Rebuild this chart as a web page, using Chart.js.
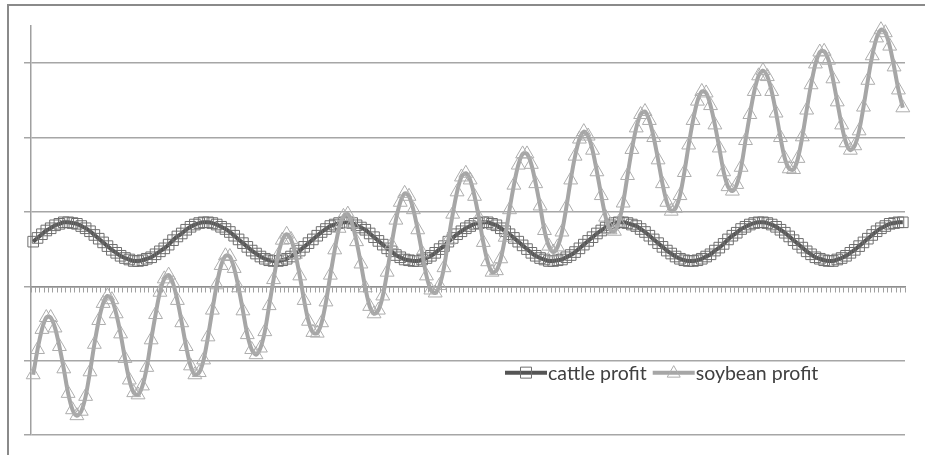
<!DOCTYPE html>
<html>
<head>
<meta charset="utf-8">
<script src="https://cdn.jsdelivr.net/npm/chart.js@4"></script>
<style>
  body { margin: 0; background: #fff; }
  #wrap { position: relative; width: 925px; height: 455px; }
  #frame { position: absolute; left: 7px; top: 4px; right: 0; bottom: 0; border-left: 2px solid #8a8a8a; border-top: 2px solid #8a8a8a; }
  canvas { position: absolute; left: 0; top: 0; }
</style>
</head>
<body>
<div id="wrap">
  <div id="frame"></div>
  <canvas id="chart" width="925" height="455"></canvas>
</div>
<script>
// one label per period, 200 periods
const periods = Array.from({ length: 200 }, (_, i) => String(i + 1));

const cattleProfit = [
  0.60, 0.65, 0.70, 0.75, 0.78, 0.82, 0.84, 0.86, 0.86, 0.85,
  0.84, 0.81, 0.78, 0.74, 0.69, 0.64, 0.59, 0.54, 0.49, 0.45,
  0.41, 0.38, 0.36, 0.34, 0.34, 0.35, 0.37, 0.39, 0.43, 0.47,
  0.51, 0.56, 0.62, 0.67, 0.71, 0.76, 0.80, 0.83, 0.85, 0.86,
  0.86, 0.85, 0.83, 0.80, 0.77, 0.73, 0.68, 0.63, 0.58, 0.53,
  0.48, 0.44, 0.40, 0.37, 0.35, 0.34, 0.34, 0.35, 0.37, 0.40,
  0.44, 0.48, 0.53, 0.58, 0.63, 0.68, 0.73, 0.77, 0.81, 0.83,
  0.85, 0.86, 0.86, 0.85, 0.82, 0.79, 0.76, 0.71, 0.66, 0.61,
  0.56, 0.51, 0.47, 0.42, 0.39, 0.36, 0.35, 0.34, 0.34, 0.36,
  0.38, 0.41, 0.45, 0.50, 0.54, 0.60, 0.65, 0.70, 0.74, 0.78,
  0.81, 0.84, 0.85, 0.86, 0.86, 0.84, 0.82, 0.78, 0.74, 0.70,
  0.65, 0.60, 0.55, 0.50, 0.45, 0.41, 0.38, 0.36, 0.34, 0.34,
  0.35, 0.36, 0.39, 0.42, 0.46, 0.51, 0.56, 0.61, 0.66, 0.71,
  0.75, 0.79, 0.82, 0.85, 0.86, 0.86, 0.85, 0.83, 0.81, 0.77,
  0.73, 0.68, 0.63, 0.58, 0.53, 0.48, 0.44, 0.40, 0.37, 0.35,
  0.34, 0.34, 0.35, 0.37, 0.40, 0.43, 0.48, 0.52, 0.57, 0.63,
  0.68, 0.72, 0.77, 0.80, 0.83, 0.85, 0.86, 0.86, 0.85, 0.83,
  0.80, 0.76, 0.72, 0.67, 0.62, 0.57, 0.52, 0.47, 0.43, 0.39,
  0.37, 0.35, 0.34, 0.34, 0.36, 0.38, 0.41, 0.45, 0.49, 0.54,
  0.59, 0.64, 0.69, 0.74, 0.78, 0.81, 0.84, 0.85, 0.86, 0.86
];

const soybeanProfit = [
  -1.19, -0.85, -0.58, -0.42, -0.42, -0.56, -0.81, -1.11, -1.44, -1.66,
  -1.74, -1.68, -1.48, -1.15, -0.78, -0.46, -0.23, -0.13, -0.18, -0.37,
  -0.64, -0.97, -1.26, -1.43, -1.46, -1.34, -1.09, -0.72, -0.38, -0.08,
  0.10, 0.15, 0.04, -0.19, -0.49, -0.81, -1.07, -1.19, -1.16, -0.99,
  -0.68, -0.32, 0.02, 0.28, 0.41, 0.40, 0.24, -0.02, -0.33, -0.65,
  -0.85, -0.92, -0.83, -0.61, -0.26, 0.09, 0.41, 0.62, 0.70, 0.63,
  0.43, 0.14, -0.19, -0.47, -0.62, -0.63, -0.49, -0.21, 0.15, 0.49,
  0.78, 0.94, 0.97, 0.84, 0.60, 0.30, -0.02, -0.27, -0.37, -0.32,
  -0.13, 0.19, 0.56, 0.89, 1.13, 1.25, 1.21, 1.03, 0.76, 0.45,
  0.14, -0.05, -0.09, 0.01, 0.25, 0.62, 0.97, 1.27, 1.47, 1.52,
  1.43, 1.21, 0.92, 0.59, 0.33, 0.19, 0.21, 0.37, 0.66, 1.03,
  1.36, 1.63, 1.78, 1.78, 1.64, 1.38, 1.08, 0.75, 0.54, 0.46,
  0.53, 0.73, 1.06, 1.43, 1.75, 1.98, 2.08, 2.02, 1.83, 1.54,
  1.22, 0.93, 0.76, 0.74, 0.86, 1.12, 1.49, 1.84, 2.13, 2.31,
  2.35, 2.23, 2.00, 1.70, 1.38, 1.13, 1.01, 1.05, 1.22, 1.53,
  1.90, 2.23, 2.49, 2.62, 2.60, 2.43, 2.17, 1.86, 1.54, 1.34,
  1.28, 1.37, 1.60, 1.96, 2.31, 2.62, 2.83, 2.90, 2.82, 2.62,
  2.33, 2.00, 1.72, 1.58, 1.57, 1.72, 2.01, 2.37, 2.71, 2.99,
  3.15, 3.16, 3.04, 2.79, 2.48, 2.17, 1.93, 1.83, 1.89, 2.09,
  2.41, 2.77, 3.10, 3.34, 3.45, 3.41, 3.23, 2.95, 2.64, 2.40
];

const seriesNames = ["cattle profit", "soybean profit"];

const CATTLE_LINE = "#555555";
const CATTLE_MARK = "#6e6e6e";
const SOY_LINE = "#a6a6a6";
const SOY_MARK = "#adadad";

// legend drawn inside the plot, below the -1 gridline (Excel style: line + marker + text)
const insideLegend = {
  id: "insideLegend",
  afterDraw(chart) {
    const c = chart.ctx;
    const y = chart.scales.y.getPixelForValue(-1) + 12;
    let x = chart.chartArea.left + 474;
    c.save();
    c.font = "19.5px Lato";
    c.textBaseline = "middle";
    const items = [
      { name: seriesNames[0], line: CATTLE_LINE, mark: CATTLE_MARK, shape: "rect" },
      { name: seriesNames[1], line: SOY_LINE, mark: SOY_MARK, shape: "tri" }
    ];
    items.forEach(it => {
      c.strokeStyle = it.line;
      c.lineWidth = 4;
      c.beginPath();
      c.moveTo(x, y);
      c.lineTo(x + 42, y);
      c.stroke();
      c.strokeStyle = it.mark;
      c.lineWidth = 1;
      c.beginPath();
      if (it.shape === "rect") {
        c.rect(x + 15.5, y - 5.5, 11, 11);
      } else {
        c.moveTo(x + 21, y - 7);
        c.lineTo(x + 27.5, y + 4.5);
        c.lineTo(x + 14.5, y + 4.5);
        c.closePath();
      }
      c.stroke();
      c.fillStyle = "#404040";
      c.fillText(it.name, x + 43, y + 1);
      x += 43 + c.measureText(it.name).width + 6;
    });
    c.restore();
  }
};

new Chart(document.getElementById("chart"), {
  type: "line",
  data: {
    labels: periods,
    datasets: [
      {
        label: seriesNames[0],
        data: cattleProfit,
        order: 1,
        borderColor: CATTLE_LINE,
        borderWidth: 4,
        tension: 0.3,
        pointStyle: "rect",
        pointRadius: 7.5,
        pointBorderColor: CATTLE_MARK,
        pointBorderWidth: 1,
        pointBackgroundColor: "rgba(0,0,0,0)",
        clip: false
      },
      {
        label: seriesNames[1],
        data: soybeanProfit,
        order: 0,
        borderColor: SOY_LINE,
        borderWidth: 4,
        tension: 0.3,
        pointStyle: "triangle",
        pointRadius: 8,
        pointBorderColor: SOY_MARK,
        pointBorderWidth: 1,
        pointBackgroundColor: "rgba(0,0,0,0)",
        clip: false
      }
    ]
  },
  options: {
    responsive: false,
    animation: false,
    devicePixelRatio: 1,
    layout: { padding: { left: 24, right: 20, top: 26, bottom: 20 } },
    plugins: {
      legend: { display: false },
      tooltip: { enabled: false }
    },
    scales: {
      x: {
        position: { y: 0 },
        offset: true,
        ticks: { display: false },
        grid: {
          offset: true,
          drawOnChartArea: false,
          tickLength: 5,
          color: "#a0a0a0",
          lineWidth: 1
        },
        border: { color: "#909090", width: 1.5 }
      },
      y: {
        min: -2,
        max: 3.5,
        ticks: { display: false, stepSize: 1 },
        grid: {
          tickLength: 7,
          lineWidth: 1.5,
          color: ctx => (ctx.tick && ctx.tick.value > 3 ? "rgba(0,0,0,0)" : "#a6a6a6")
        },
        border: { color: "#a0a0a0", width: 1.5 }
      }
    }
  },
  plugins: [insideLegend]
});
</script>
</body>
</html>
